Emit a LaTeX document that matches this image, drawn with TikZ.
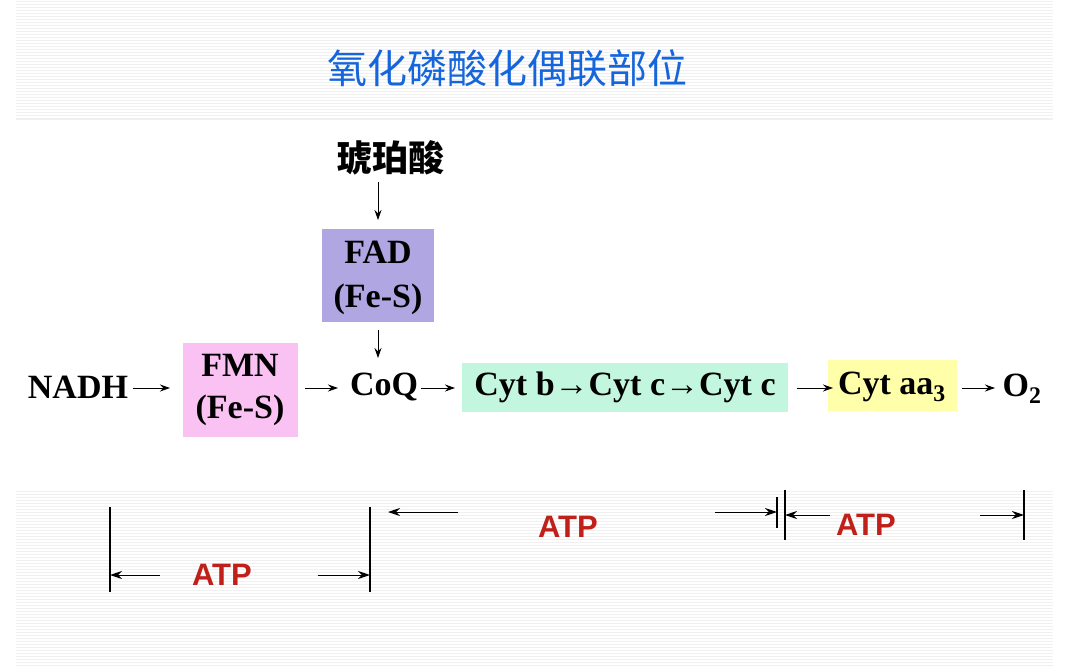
\documentclass[tikz,border=0pt]{standalone}
\usepackage{fontspec}
\setmainfont{Liberation Serif}
\newfontfamily\cjk{Noto Sans CJK SC}
\newfontfamily\sans{Liberation Sans}
\usetikzlibrary{arrows.meta}
\definecolor{ttl}{HTML}{1566DC}
\definecolor{fadc}{HTML}{AFA6E2}
\definecolor{fmnc}{HTML}{F9C2F2}
\definecolor{cytc}{HTML}{C2F6DE}
\definecolor{aac}{HTML}{FFFFAA}
\definecolor{atpc}{HTML}{C0201A}
\begin{document}
\begin{tikzpicture}[x=1pt,y=-1pt,
  lbl/.style={font=\fontsize{34}{38}\selectfont\bfseries, inner sep=0pt},
  arr/.style={-{Stealth[length=10pt,width=7pt]}, line width=0.9pt},
  dim/.style={-{Stealth[length=12pt,width=8pt]}, line width=1pt},
  bar/.style={line width=1.4pt},
  atp/.style={font=\sans\fontsize{31}{34}\selectfont\bfseries, text=atpc}]
\useasboundingbox (0,0) rectangle (1080,669);
\fill[white] (0,0) rectangle (1080,669);
\foreach \y in {2,5,...,119} \draw[black!6,line width=1pt] (16,\y) -- (1053,\y);
\foreach \y in {491,494,...,667} \draw[black!6,line width=1pt] (16,\y) -- (1053,\y);

\node[font=\cjk\fontsize{40}{44}\selectfont, text=ttl] (title) at (507,68) {氧化磷酸化偶联部位};
\node[font=\cjk\fontsize{36}{40}\selectfont\bfseries] (succ) at (390,158) {琥珀酸};

\fill[fadc] (322,229) rectangle (434,322);
\node[lbl, align=center] (fad) at (378,278) {FAD\\[6pt](Fe-S)};
\fill[fmnc] (183,343) rectangle (298,437);
\node[lbl, align=center] (fmn) at (240,390) {FMN\\[4pt](Fe-S)};
\fill[cytc] (462,363) rectangle (788,412);
\node[lbl] (cyt) at (625,387) {Cyt b→Cyt c→Cyt c};
\fill[aac] (828,360) rectangle (957,411);
\node[lbl] (aa) at (892,387) {Cyt aa$_{\mathbf 3}$};

\node[lbl] (nadh) at (78,387) {NADH};
\node[lbl] (coq) at (384,387) {CoQ};
\node[lbl] (o2) at (1022,389) {O$_{\mathbf 2}$};

\coordinate (f1) at (378,182); \coordinate (f2) at (378,220);
\draw[arr] (f1) -- (f2);
\coordinate (f3) at (378,330); \coordinate (f4) at (378,358);
\draw[arr] (f3) -- (f4);
\coordinate (a1) at (133,388); \coordinate (a2) at (170,388);
\draw[arr] (a1) -- (a2);
\coordinate (a3) at (305,388); \coordinate (a4) at (338,388);
\draw[arr] (a3) -- (a4);
\coordinate (a5) at (421,388); \coordinate (a6) at (455,388);
\draw[arr] (a5) -- (a6);
\coordinate (a7) at (797,388); \coordinate (a8) at (833,388);
\draw[arr] (a7) -- (a8);
\coordinate (a9) at (962,388); \coordinate (a10) at (995,388);
\draw[arr] (a9) -- (a10);

% bottom brackets
\coordinate (b1t) at (110,507); \coordinate (b1b) at (110,592);
\coordinate (b2t) at (370,507); \coordinate (b2b) at (370,592);
\draw[bar] (b1t) -- (b1b);
\draw[bar] (b2t) -- (b2b);
\draw[dim] (160,575) -- (b1b |- 0,575);
\draw[dim] (318,575) -- (b2b |- 0,575);
\node[atp] (atp1) at (222,575) {ATP};

\coordinate (b3t) at (777,497); \coordinate (b3b) at (777,528);
\coordinate (b4t) at (785,490); \coordinate (b4b) at (785,540);
\coordinate (b5t) at (1024,490); \coordinate (b5b) at (1024,540);
\draw[bar] (b3t) -- (b3b);
\draw[bar] (b4t) -- (b4b);
\draw[bar] (b5t) -- (b5b);
\draw[dim] (458,512) -- (388,512);
\draw[dim] (715,512) -- (b3t |- 0,512);
\node[atp] (atp2) at (568,527) {ATP};
\draw[dim] (830,515) -- (b4t |- 0,515);
\draw[dim] (980,515) -- (b5t |- 0,515);
\node[atp] (atp3) at (866,525) {ATP};
\end{tikzpicture}
\end{document}
